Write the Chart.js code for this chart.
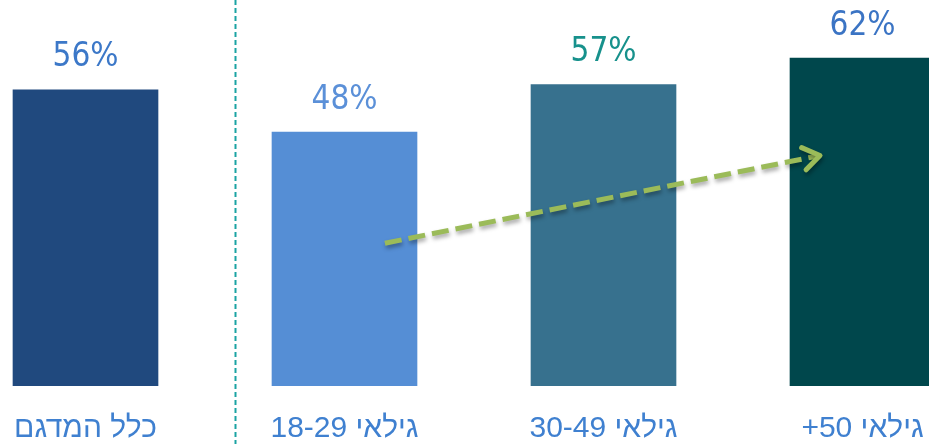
<!DOCTYPE html>
<html>
<head>
<meta charset="utf-8">
<script src="https://cdn.jsdelivr.net/npm/chart.js@4"></script>
<style>
  html, body { margin: 0; padding: 0; background: #fff; overflow: hidden; }
  #wrap { position: relative; width: 929px; height: 444px; overflow: hidden; }
  #chart { position: absolute; left: -44px; top: 0; }
</style>
</head>
<body>
<div id="wrap">
  <canvas id="chart" dir="rtl" width="1036" height="444"></canvas>
</div>
<script>
// Chart data
const categories = ['כלל המדגם', 'גילאי 18-29', 'גילאי 30-49', 'גילאי 50+'];
const values = [56, 48, 57, 62];
const barColors = ['#20497E', '#558ED5', '#37718E', '#00474C'];
const labelColors = ['#3C78C8', '#5B90D8', '#17918C', '#3B74C4'];

// Separator between the total and the age groups (category index)
const separatorAt = 0.578;
// Trend arrow: [category index, value] start and end
const arrowFrom = [1.156, 27];
const arrowTo = [2.836, 43.6];

function xAt(scale, idx) {
    const i = Math.floor(idx);
    const a = scale.getPixelForValue(i);
    const b = scale.getPixelForValue(i + 1);
    return a + (b - a) * (idx - i);
}

const overlayPlugin = {
    id: 'overlay',
    afterDatasetsDraw(chart) {
        const ctx = chart.ctx;
        const xs = chart.scales.x;
        const ys = chart.scales.y;
        const meta = chart.getDatasetMeta(0);

        // Value labels above bars
        ctx.save();
        ctx.font = '33px "Liberation Sans Narrow", "DejaVu Sans Condensed", sans-serif';
        ctx.textAlign = 'center';
        ctx.textBaseline = 'middle';
        meta.data.forEach((bar, i) => {
            ctx.fillStyle = labelColors[i];
            ctx.fillText(values[i] + '%', bar.x, bar.y - 32);
        });
        ctx.restore();

        // Dashed separator
        ctx.save();
        const sx = Math.round(xAt(xs, separatorAt)) + 0.5;
        ctx.strokeStyle = '#1BA3A3';
        ctx.lineWidth = 2;
        ctx.setLineDash([5, 3]);
        ctx.beginPath();
        ctx.moveTo(sx, 0);
        ctx.lineTo(sx, chart.height);
        ctx.stroke();
        ctx.restore();

        // Trend arrow
        const x1 = xAt(xs, arrowFrom[0]), y1 = ys.getPixelForValue(arrowFrom[1]);
        const x2 = xAt(xs, arrowTo[0]), y2 = ys.getPixelForValue(arrowTo[1]);
        const ang = Math.atan2(y2 - y1, x2 - x1);
        ctx.save();
        ctx.strokeStyle = '#9BBB59';
        ctx.lineWidth = 5;
        ctx.shadowColor = 'rgba(0,0,0,0.35)';
        ctx.shadowBlur = 4;
        ctx.shadowOffsetX = 1;
        ctx.shadowOffsetY = 3;
        ctx.setLineDash([17, 7]);
        ctx.beginPath();
        ctx.moveTo(x1, y1);
        ctx.lineTo(x2 - 4 * Math.cos(ang), y2 - 4 * Math.sin(ang));
        ctx.stroke();
        ctx.setLineDash([]);
        ctx.lineCap = 'round';
        ctx.lineJoin = 'round';
        const len = 20;
        ctx.beginPath();
        ctx.moveTo(x2 - len * Math.cos(ang - 0.6), y2 - len * Math.sin(ang - 0.6));
        ctx.lineTo(x2, y2);
        ctx.lineTo(x2 - len * Math.cos(ang + 0.6), y2 - len * Math.sin(ang + 0.6));
        ctx.stroke();
        ctx.restore();
    }
};

new Chart(document.getElementById('chart'), {
    type: 'bar',
    data: {
        labels: categories,
        datasets: [{
            data: values,
            backgroundColor: barColors,
            barThickness: 145
        }]
    },
    options: {
        responsive: false,
        animation: false,
        devicePixelRatio: 1,
        layout: { padding: 0 },
        plugins: {
            legend: { display: false },
            tooltip: { enabled: false }
        },
        scales: {
            x: {
                grid: { display: false, drawTicks: false },
                border: { display: false },
                afterFit(scale) { scale.height = 58; },
                ticks: {
                    color: '#3F80D0',
                    padding: 25,
                    font: { family: '"Liberation Sans", Arial, sans-serif', size: 30 }
                }
            },
            y: {
                display: false,
                min: 0,
                max: 73
            }
        }
    },
    plugins: [overlayPlugin]
});
</script>
</body>
</html>
